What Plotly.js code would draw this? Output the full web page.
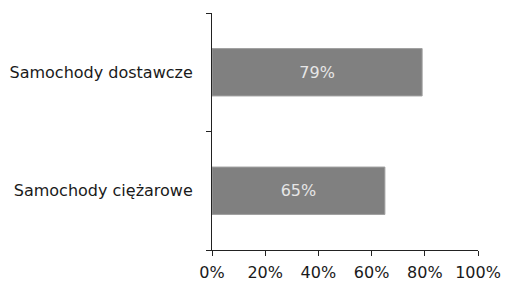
<!DOCTYPE html>
<html>
<head>
<meta charset="utf-8">
<script src="https://cdn.plot.ly/plotly-3.0.1.min.js"></script>
<style>html,body{margin:0;padding:0;background:#fff;}#chart{width:505px;height:282px;}</style>
</head>
<body>
<div id="chart"></div>
<script>
const categories = ["Samochody ciężarowe", "Samochody dostawcze"];
const values = [65, 79];
const labels = ["65%", "79%"];

const font = "Verdana, 'DejaVu Sans', sans-serif";
Plotly.newPlot('chart', [{
  type: 'bar',
  orientation: 'h',
  y: categories,
  x: values,
  text: labels,
  textposition: 'inside',
  insidetextanchor: 'middle',
  textfont: {family: font, size: 16, color: '#e6e6e6'},
  marker: {color: '#808080', line: {color: '#a0a0a0', width: 1}},
  width: 0.4,
  hoverinfo: 'none'
}], {
  width: 505, height: 282,
  margin: {l: 212, r: 27, t: 13, b: 32},
  paper_bgcolor: '#fff', plot_bgcolor: '#fff',
  showlegend: false,
  font: {family: font, size: 16, color: '#1a1a1a'},
  xaxis: {
    range: [0, 100], dtick: 20, ticksuffix: '%',
    showgrid: false, zeroline: false,
    showline: true, linecolor: '#222', linewidth: 1,
    ticks: 'outside', ticklen: 5, tickcolor: '#222',
    ticklabelstandoff: 3,
    tickfont: {family: font, size: 16, color: '#1a1a1a'}
  },
  yaxis: {
    type: 'category',
    showgrid: false, zeroline: false,
    showline: true, linecolor: '#222', linewidth: 1,
    ticks: 'outside', ticklen: 5, tickcolor: '#222',
    tickson: 'boundaries',
    ticklabelstandoff: 15,
    tickfont: {family: font, size: 16, color: '#1a1a1a'}
  }
}, {displayModeBar: false, staticPlot: true});
</script>
</body>
</html>
